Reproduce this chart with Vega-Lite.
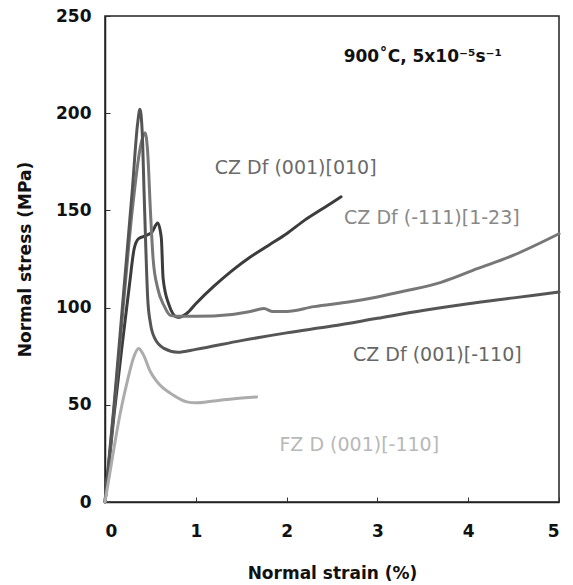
{
  "$schema": "https://vega.github.io/schema/vega-lite/v6.json",
  "width": 454,
  "height": 486,
  "autosize": "none",
  "padding": {"left": 105, "top": 16, "right": 14, "bottom": 83},
  "background": "white",
  "config": {
    "view": {"stroke": "#222", "strokeWidth": 1.5},
    "font": "DejaVu Sans",
    "axis": {
      "grid": false,
      "domainColor": "#222",
      "domainWidth": 1.5,
      "tickColor": "#333",
      "tickSize": -5,
      "tickWidth": 1,
      "labelFont": "DejaVu Sans",
      "labelFontWeight": "bold",
      "labelFontSize": 17,
      "labelColor": "#111",
      "titleFont": "DejaVu Sans",
      "titleFontWeight": "bold",
      "titleFontSize": 17,
      "titleColor": "#111"
    }
  },
  "datasets": {
    "curves": [
      {"s": "A", "i": 0, "x": 0, "y": 0},
      {"s": "A", "i": 1, "x": 0.1, "y": 45},
      {"s": "A", "i": 2, "x": 0.2, "y": 85},
      {"s": "A", "i": 3, "x": 0.27, "y": 112},
      {"s": "A", "i": 4, "x": 0.32, "y": 130},
      {"s": "A", "i": 5, "x": 0.37, "y": 135.5},
      {"s": "A", "i": 6, "x": 0.45, "y": 137},
      {"s": "A", "i": 7, "x": 0.52, "y": 139},
      {"s": "A", "i": 8, "x": 0.58, "y": 143.5},
      {"s": "A", "i": 9, "x": 0.62, "y": 136},
      {"s": "A", "i": 10, "x": 0.64, "y": 115},
      {"s": "A", "i": 11, "x": 0.7, "y": 102},
      {"s": "A", "i": 12, "x": 0.8, "y": 95},
      {"s": "A", "i": 13, "x": 0.9, "y": 97},
      {"s": "A", "i": 14, "x": 1.0, "y": 102},
      {"s": "A", "i": 15, "x": 1.2, "y": 111},
      {"s": "A", "i": 16, "x": 1.4, "y": 119},
      {"s": "A", "i": 17, "x": 1.6, "y": 126},
      {"s": "A", "i": 18, "x": 1.8, "y": 132},
      {"s": "A", "i": 19, "x": 2.0, "y": 138},
      {"s": "A", "i": 20, "x": 2.2, "y": 145},
      {"s": "A", "i": 21, "x": 2.4, "y": 151},
      {"s": "A", "i": 22, "x": 2.6, "y": 157},

      {"s": "B", "i": 0, "x": 0, "y": 0},
      {"s": "B", "i": 1, "x": 0.1, "y": 48},
      {"s": "B", "i": 2, "x": 0.2, "y": 100},
      {"s": "B", "i": 3, "x": 0.3, "y": 150},
      {"s": "B", "i": 4, "x": 0.4, "y": 185},
      {"s": "B", "i": 5, "x": 0.44, "y": 190},
      {"s": "B", "i": 6, "x": 0.47, "y": 180},
      {"s": "B", "i": 7, "x": 0.5, "y": 150},
      {"s": "B", "i": 8, "x": 0.53, "y": 125},
      {"s": "B", "i": 9, "x": 0.58, "y": 110},
      {"s": "B", "i": 10, "x": 0.65, "y": 101},
      {"s": "B", "i": 11, "x": 0.72, "y": 96},
      {"s": "B", "i": 12, "x": 0.8, "y": 95.5},
      {"s": "B", "i": 13, "x": 1.0, "y": 95.5},
      {"s": "B", "i": 14, "x": 1.4, "y": 96.5},
      {"s": "B", "i": 15, "x": 1.6, "y": 98},
      {"s": "B", "i": 16, "x": 1.75, "y": 99.5},
      {"s": "B", "i": 17, "x": 1.85, "y": 98},
      {"s": "B", "i": 18, "x": 2.0, "y": 98},
      {"s": "B", "i": 19, "x": 2.3, "y": 100.5},
      {"s": "B", "i": 20, "x": 2.7, "y": 103},
      {"s": "B", "i": 21, "x": 3.0, "y": 105.5},
      {"s": "B", "i": 22, "x": 3.3, "y": 108.5},
      {"s": "B", "i": 23, "x": 3.7, "y": 113},
      {"s": "B", "i": 24, "x": 4.1, "y": 120},
      {"s": "B", "i": 25, "x": 4.5, "y": 127},
      {"s": "B", "i": 26, "x": 5.0, "y": 138},

      {"s": "C", "i": 0, "x": 0, "y": 0},
      {"s": "C", "i": 1, "x": 0.1, "y": 50},
      {"s": "C", "i": 2, "x": 0.2, "y": 105},
      {"s": "C", "i": 3, "x": 0.3, "y": 160},
      {"s": "C", "i": 4, "x": 0.36, "y": 195},
      {"s": "C", "i": 5, "x": 0.385, "y": 202},
      {"s": "C", "i": 6, "x": 0.41, "y": 190},
      {"s": "C", "i": 7, "x": 0.43, "y": 160},
      {"s": "C", "i": 8, "x": 0.45, "y": 130},
      {"s": "C", "i": 9, "x": 0.47, "y": 105},
      {"s": "C", "i": 10, "x": 0.5, "y": 92},
      {"s": "C", "i": 11, "x": 0.55, "y": 84},
      {"s": "C", "i": 12, "x": 0.65, "y": 79},
      {"s": "C", "i": 13, "x": 0.8, "y": 77},
      {"s": "C", "i": 14, "x": 1.0, "y": 78.5},
      {"s": "C", "i": 15, "x": 1.5, "y": 83},
      {"s": "C", "i": 16, "x": 2.0, "y": 87},
      {"s": "C", "i": 17, "x": 2.5, "y": 90.5},
      {"s": "C", "i": 18, "x": 3.0, "y": 94.5},
      {"s": "C", "i": 19, "x": 3.5, "y": 98.5},
      {"s": "C", "i": 20, "x": 4.0, "y": 102},
      {"s": "C", "i": 21, "x": 4.5, "y": 105},
      {"s": "C", "i": 22, "x": 5.0, "y": 108},

      {"s": "D", "i": 0, "x": 0, "y": 0},
      {"s": "D", "i": 1, "x": 0.1, "y": 28},
      {"s": "D", "i": 2, "x": 0.165, "y": 45},
      {"s": "D", "i": 3, "x": 0.25, "y": 63},
      {"s": "D", "i": 4, "x": 0.32, "y": 75},
      {"s": "D", "i": 5, "x": 0.37, "y": 79},
      {"s": "D", "i": 6, "x": 0.42, "y": 76},
      {"s": "D", "i": 7, "x": 0.5, "y": 67},
      {"s": "D", "i": 8, "x": 0.57, "y": 62},
      {"s": "D", "i": 9, "x": 0.75, "y": 55},
      {"s": "D", "i": 10, "x": 0.9, "y": 51.5},
      {"s": "D", "i": 11, "x": 1.0, "y": 51},
      {"s": "D", "i": 12, "x": 1.2, "y": 52},
      {"s": "D", "i": 13, "x": 1.4, "y": 53},
      {"s": "D", "i": 14, "x": 1.67, "y": 54}
    ],
    "labels": [
      {"s": "A", "x": 2.1, "y": 172, "t": "CZ Df (001)[010]"},
      {"s": "B", "x": 3.6, "y": 146, "t": "CZ Df (-111)[1-23]"},
      {"s": "C", "x": 3.66, "y": 75.5, "t": "CZ Df (001)[-110]"},
      {"s": "D", "x": 2.8, "y": 29.5, "t": "FZ D (001)[-110]"}
    ],
    "cond": [
      {"x": 3.5, "y": 229, "t": "900˚C, 5x10⁻⁵s⁻¹"}
    ]
  },
  "layer": [
    {
      "data": {"name": "curves"},
      "mark": {"type": "line", "strokeWidth": 3, "strokeCap": "round", "strokeJoin": "round", "interpolate": "monotone"},
      "encoding": {
        "x": {"field": "x", "type": "quantitative", "scale": {"domain": [0, 5], "nice": false},
              "axis": {"values": [0, 1, 2, 3, 4, 5], "format": "d", "title": "Normal strain (%)", "labelPadding": 26, "titleY": 71, "titleBaseline": "middle"}},
        "y": {"field": "y", "type": "quantitative", "scale": {"domain": [0, 250], "nice": false},
              "axis": {"values": [0, 50, 100, 150, 200, 250], "format": "d", "title": "Normal stress (MPa)", "labelPadding": 19, "titleX": -80, "titleBaseline": "middle"}},
        "color": {"field": "s", "type": "nominal", "legend": null,
                  "scale": {"domain": ["A", "B", "C", "D"], "range": ["#3c3c3c", "#777777", "#555555", "#acacac"]}},
        "detail": {"field": "s"},
        "order": {"field": "i", "type": "quantitative"}
      }
    },
    {
      "data": {"name": "labels"},
      "mark": {"type": "text", "fontSize": 19, "font": "DejaVu Sans", "align": "center", "baseline": "middle"},
      "encoding": {
        "x": {"field": "x", "type": "quantitative"},
        "y": {"field": "y", "type": "quantitative"},
        "text": {"field": "t"},
        "color": {"field": "s", "type": "nominal", "legend": null,
                  "scale": {"domain": ["A", "B", "C", "D"], "range": ["#6a6a6a", "#888888", "#666666", "#b8b8b8"]}}
      }
    },
    {
      "data": {"name": "cond"},
      "mark": {"type": "text", "fontSize": 17, "fontWeight": "bold", "font": "DejaVu Sans", "align": "center", "baseline": "middle", "color": "#111"},
      "encoding": {
        "x": {"field": "x", "type": "quantitative"},
        "y": {"field": "y", "type": "quantitative"},
        "text": {"field": "t"}
      }
    }
  ],
  "resolve": {"scale": {"color": "independent"}}
}
